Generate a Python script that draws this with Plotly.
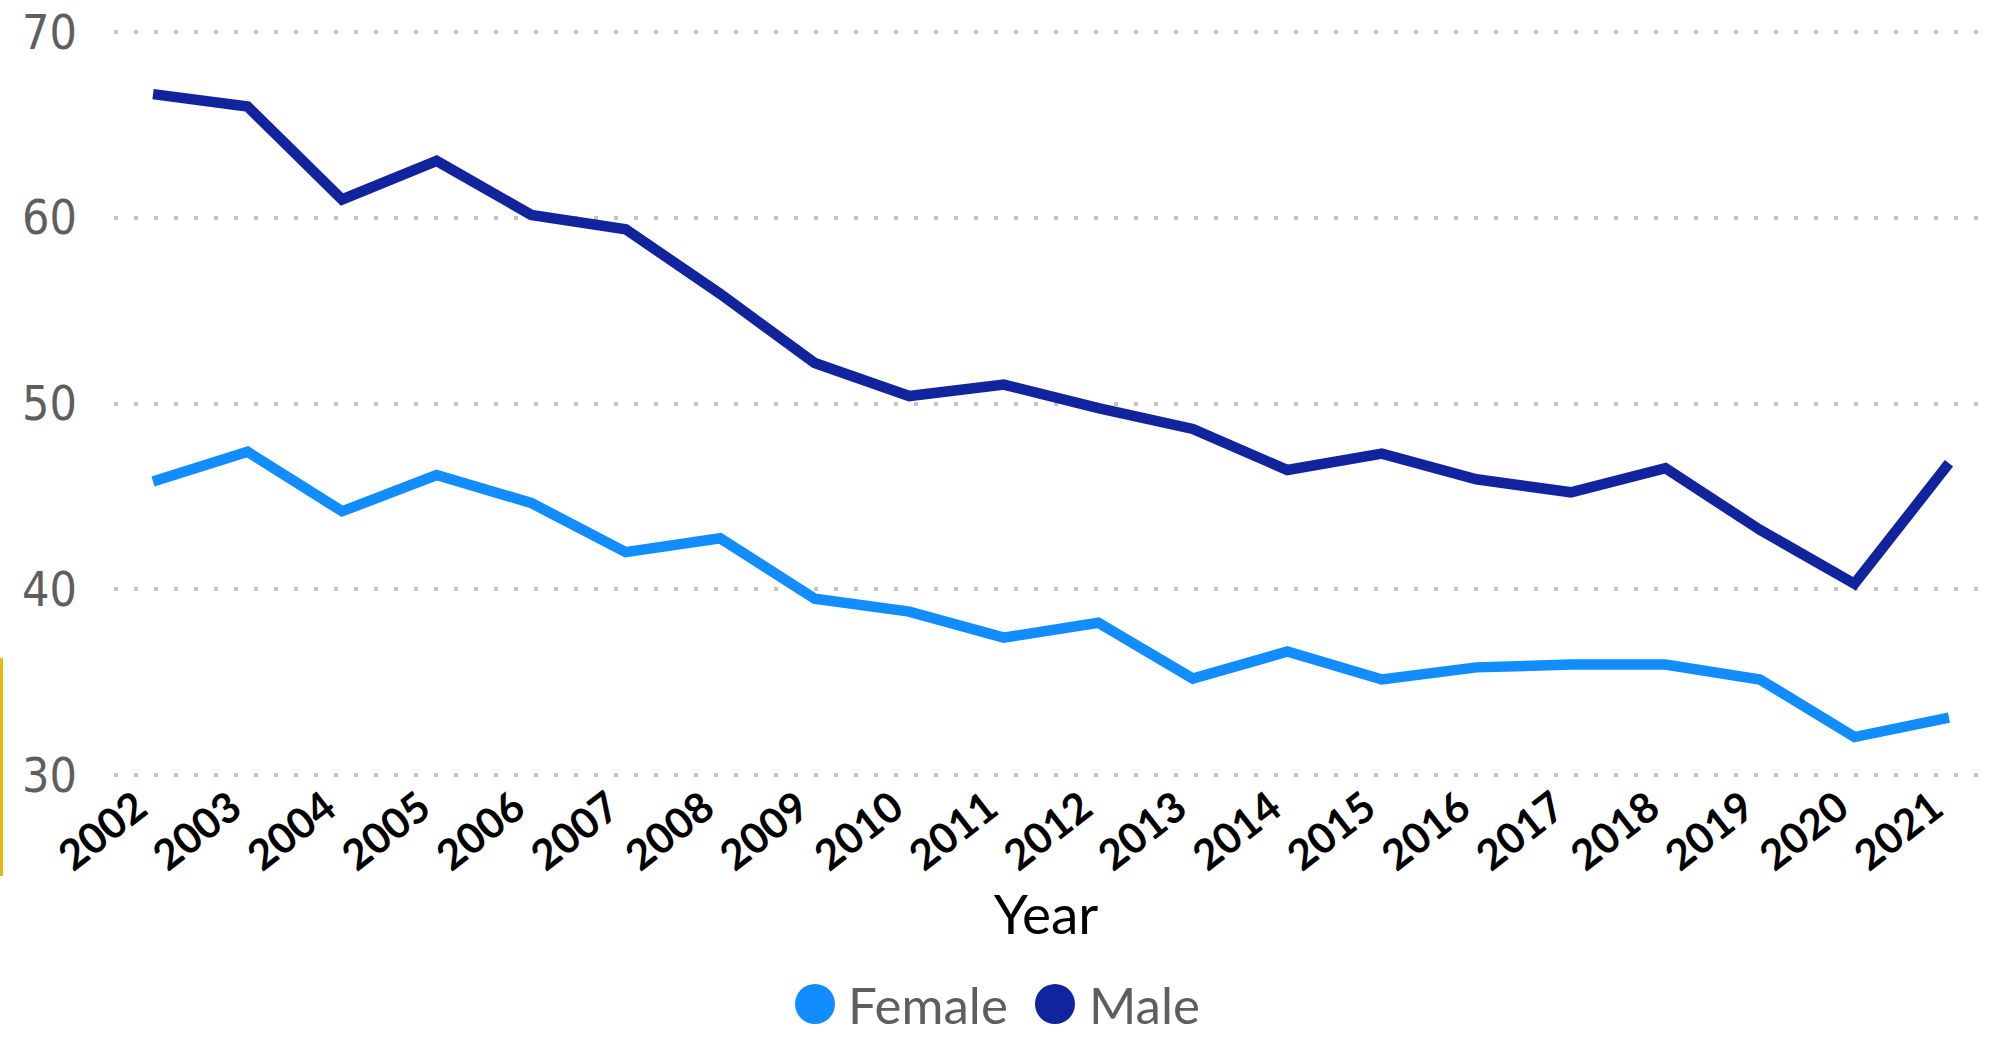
import plotly.graph_objects as go

# ---- data ----
years = [2002, 2003, 2004, 2005, 2006, 2007, 2008, 2009, 2010, 2011,
         2012, 2013, 2014, 2015, 2016, 2017, 2018, 2019, 2020, 2021]
year_labels = [str(y) for y in years]
female = [45.8, 47.4, 44.2, 46.15, 44.65, 42.0, 42.75, 39.5, 38.8, 37.4,
          38.2, 35.2, 36.65, 35.15, 35.8, 35.95, 35.95, 35.15, 32.05, 33.1]
male = [66.65, 65.98, 60.98, 63.06, 60.15, 59.38, 55.9, 52.18, 50.4, 51.02,
        49.75, 48.63, 46.42, 47.3, 45.92, 45.22, 46.52, 43.2, 40.3, 46.78]
y_ticks = [30, 40, 50, 60, 70]
series_names = ["Female", "Male"]
series_colors = ["#118DFF", "#12239E"]

# ---- geometry (pixels) ----
W, H = 1997, 1038
ML, MR, MT, MB = 114, 19, 30, 261
PW = W - ML - MR
PH = H - MT - MB


def px_to_paper_x(px):
    return (px - ML) / PW


def px_to_paper_y(py):
    return (H - MB - py) / PH


fig = go.Figure()
for name, vals, col in zip(series_names, [female, male], series_colors):
    fig.add_trace(go.Scatter(
        x=years, y=vals, mode="lines", name=name,
        line=dict(color=col, width=10.5), showlegend=False,
    ))

fig.update_layout(
    width=W, height=H,
    margin=dict(l=ML, r=MR, t=MT, b=MB, autoexpand=False),
    plot_bgcolor="white", paper_bgcolor="white",
    showlegend=False,
)

fig.update_xaxes(
    range=[years[0] - 0.413, years[-1] + 0.307],
    tickmode="array", tickvals=years, ticktext=year_labels,
    tickangle=-38, ticklabelshift=-16, ticklabelstandoff=-3,
    tickfont=dict(family="Lato, Noto Sans", size=42, color="black", weight="bold"),
    showgrid=False, zeroline=False, showline=False, ticks="",
    title=dict(text="Year", font=dict(family="Lato, Noto Sans", size=55, color="black"),
               standoff=0),
)
fig.update_yaxes(
    range=[29.9, 70.1],
    tickmode="array", tickvals=y_ticks,
    tickfont=dict(family="Liberation Sans Narrow, DejaVu Sans Condensed, Lato, Noto Sans",
                  size=48, color="#605E5C"),
    showgrid=True, gridcolor="#C4C4C4", gridwidth=3.5, griddash="3.5px,16.5px",
    zeroline=False, showline=False, ticks="",
    ticklabelstandoff=36,
)

# legend (circle symbols + text)
leg_y = 1004
leg_items = [(815, 846), (1055, 1087)]
for (cx, tx), name, col in zip(leg_items, series_names, series_colors):
    fig.add_shape(type="circle", xref="paper", yref="paper",
                  xsizemode="pixel", ysizemode="pixel",
                  xanchor=px_to_paper_x(cx), yanchor=px_to_paper_y(leg_y),
                  x0=-20, x1=20, y0=-20, y1=20,
                  fillcolor=col, line=dict(width=0))
    fig.add_annotation(xref="paper", yref="paper",
                       x=px_to_paper_x(tx), y=px_to_paper_y(leg_y),
                       xanchor="left", yanchor="middle", showarrow=False,
                       text=name, font=dict(family="Lato, Noto Sans", size=51, color="#605E5C"))

# yellow selection marker at left edge
fig.add_shape(type="line", xref="paper", yref="paper",
              x0=px_to_paper_x(1.5), x1=px_to_paper_x(1.5),
              y0=px_to_paper_y(658), y1=px_to_paper_y(876),
              line=dict(color="#E5B80B", width=3))

fig.write_html("out.html", config={"displayModeBar": False},
               post_script="document.body.style.margin='0';document.body.style.overflow='hidden';")
